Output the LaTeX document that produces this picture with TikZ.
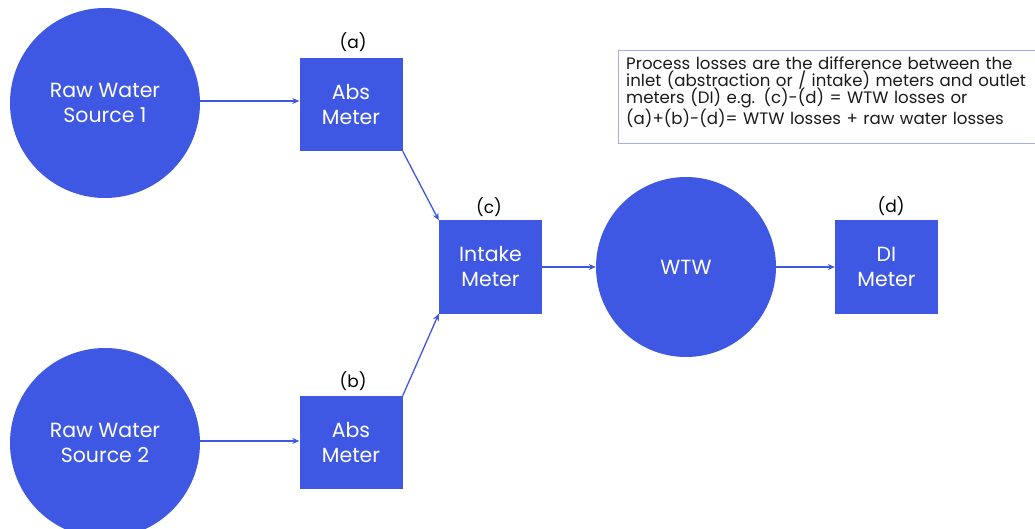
\documentclass[tikz,border=0pt]{standalone}
\usepackage{fontspec}
\setmainfont{Poppins}
\usetikzlibrary{arrows.meta}
\definecolor{nodeblue}{HTML}{3F58E3}
\definecolor{boxedge}{HTML}{A7ABEB}
\definecolor{notetextc}{HTML}{1A1A1A}
\newcommand{\tightlines}{\setlength{\lineskiplimit}{-20pt}\setlength{\lineskip}{0pt}}
\tikzset{
  src/.style={circle,fill=nodeblue,draw=none,text=white,minimum size=190pt,inner sep=0pt,align=center,font=\fontsize{20.5}{25}\selectfont},
  meter/.style={rectangle,fill=nodeblue,draw=none,text=white,minimum width=103pt,minimum height=93pt,inner sep=0pt,align=center,font=\fontsize{20.5}{25}\selectfont},
  tag/.style={font=\fontsize{17}{19}\selectfont,text=black,inner sep=0pt},
  flow/.style={draw=nodeblue,line width=1.3pt,-{Stealth[length=7pt,width=6pt]}},
}
\begin{document}
\begin{tikzpicture}[x=1pt,y=1pt]
\useasboundingbox (0,0) rectangle (1035,528);
\node[src] (rw1) at (105,425) {Raw Water\\Source 1};
\node[src] (rw2) at (105,85) {Raw Water\\Source 2};
\node[meter] (absa) at (351,423.5) {Abs\\Meter};
\node[meter] (absb) at (351,85.5) {Abs\\Meter};
\node[meter] (intake) at (490.5,261) {Intake\\Meter};
\node[src,minimum size=180pt] (wtw) at (686,261) {WTW};
\node[meter] (di) at (886.5,261) {DI\\Meter};
\node[tag] (la) at (353,486) {(a)};
\node[tag] (lb) at (353,147) {(b)};
\node[tag] (lc) at (489,321) {(c)};
\node[tag] (ld) at (891,322) {(d)};
\draw[flow] (rw1.east |- 0,427) coordinate (s1) -- (s1 -| absa.west);
\draw[flow] (rw2.east |- 0,87) coordinate (s2) -- (s2 -| absb.west);
\draw[flow] (absa.south east) -- (intake.north west);
\draw[flow] (absb.north east) -- (intake.south west);
\draw[flow] (intake.east) -- (wtw.west);
\draw[flow] (wtw.east) -- (di.west);
\node[draw=boxedge,line width=1pt,anchor=north west,minimum width=420pt,minimum height=93pt,inner sep=0pt] (note) at (618,478) {};
\node[anchor=north west,text width=420pt,align=left,inner sep=0pt,text=notetextc,font=\fontsize{16.6}{16.7}\selectfont] (notetext) at (626,471) {\tightlines Process losses are the difference between the\\inlet (abstraction or / intake) meters and outlet\\meters (DI) e.g. (c)-(d) = WTW losses or\\(a)+(b)-(d)= WTW losses + raw water losses};
\end{tikzpicture}
\end{document}
